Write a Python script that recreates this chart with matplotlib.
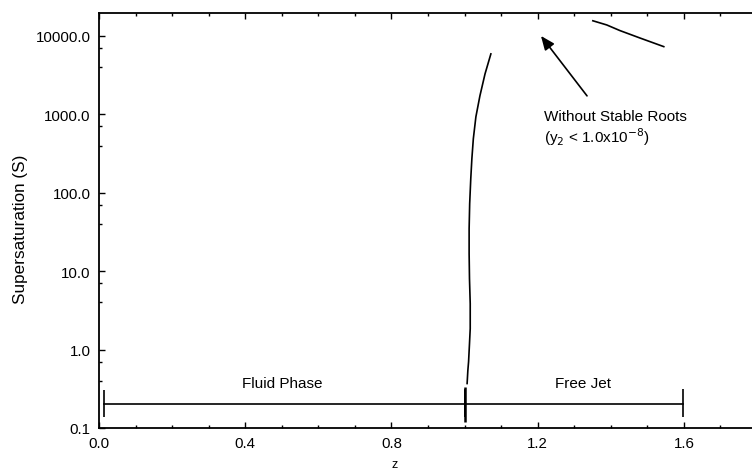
import matplotlib
matplotlib.use("Agg")
import matplotlib.pyplot as plt
from matplotlib.ticker import FixedLocator, FormatStrFormatter, MultipleLocator

plt.rcParams['font.family'] = ['Liberation Sans', 'DejaVu Sans']

# Curve below: supersaturation along z near the nozzle exit
z_curve1 = [1.007, 1.009, 1.011, 1.0135, 1.0155, 1.0155, 1.0135, 1.0125, 1.0125,
            1.014, 1.017, 1.020, 1.024, 1.031, 1.042, 1.056, 1.072]
s_curve1 = [0.369, 0.54, 0.70, 1.19, 1.85, 3.85, 8.0, 16.7, 34.8,
            72.4, 151, 271, 488, 929, 1720, 3280, 5900]

# Curve at upper right (free jet, high S)
z_curve2 = [1.351, 1.389, 1.425, 1.480, 1.545]
s_curve2 = [15600, 13800, 11700, 9400, 7300]

# Region bars
fluid_range = [0.014, 1.0]
jet_range = [1.0, 1.597]
bar_level = 0.2

x_ticks = [0.0, 0.4, 0.8, 1.2, 1.6]
y_ticks = [0.1, 1.0, 10.0, 100.0, 1000.0, 10000.0]

fig = plt.figure(figsize=(7.52, 4.77), dpi=100)
ax = fig.add_axes([99/752, 48/477, (757-99)/752, (463-48)/477])

ax.plot(z_curve1, s_curve1, color='black', lw=1.2)
ax.plot(z_curve2, s_curve2, color='black', lw=1.2)

# bars with end caps
def span(x0, x1, y, cap_lo, cap_hi):
    ax.plot([x0, x1], [y, y], color='black', lw=1.2)
    ax.vlines([x0, x1], cap_lo, cap_hi, color='black', lw=1.2)

span(fluid_range[0], fluid_range[1], bar_level, 0.138, 0.305)
span(jet_range[0], jet_range[1], bar_level * 1.015, 0.14, 0.31)
ax.vlines([1.0], 0.12, 0.33, color='black', lw=1.8)

ax.text(0.50, 0.37, 'Fluid Phase', ha='center', va='center', fontsize=11)
ax.text(1.324, 0.38, 'Free Jet', ha='center', va='center', fontsize=11)

ax.annotate('', xy=(1.209, 10000), xytext=(1.335, 1720),
            arrowprops=dict(arrowstyle='-|>,head_length=0.6,head_width=0.25',
                            color='black', lw=1.2,
                            mutation_scale=14, shrinkA=0, shrinkB=0))
ax.text(1.217, 950, 'Without Stable Roots', ha='left', va='center', fontsize=11)
ax.text(1.217, 520, r'(y$_2$ < 1.0x10$^{-8}$)', ha='left', va='center', fontsize=11)

ax.set_yscale('log')
ax.set_xlim(0, 1.8)
ax.set_ylim(0.1, 19600)

ax.xaxis.set_major_locator(FixedLocator(x_ticks))
ax.xaxis.set_minor_locator(MultipleLocator(0.1))
ax.xaxis.set_major_formatter(FormatStrFormatter('%.1f'))
ax.yaxis.set_major_locator(FixedLocator(y_ticks))
minor_y = [m * d for d in [0.1, 1, 10, 100, 1000] for m in (4, 7)]
ax.yaxis.set_minor_locator(FixedLocator(minor_y))
ax.yaxis.set_major_formatter(FormatStrFormatter('%.1f'))
ax.yaxis.set_minor_formatter(plt.NullFormatter())

ax.tick_params(axis='both', which='both', direction='in', labelsize=10.8, width=1.0)
ax.tick_params(axis='x', which='both', top=True, bottom=True)
ax.tick_params(which='major', length=4, pad=6)
ax.tick_params(which='minor', length=2.5)
ax.spines['right'].set_visible(False)
for s in ['left', 'bottom', 'top']:
    ax.spines[s].set_linewidth(1.3)

ax.set_ylabel('Supersaturation (S)', fontsize=12.3)
ax.yaxis.label.set_va('center')
ax.yaxis.label.set_ha('center')
ax.yaxis.set_label_coords((21-99)/658, (429-229)/415)
ax.set_xlabel('z', fontsize=9)
ax.xaxis.label.set_va('center')
ax.xaxis.set_label_coords((395-99)/658, (429-465)/415)

fig.savefig('out.png', dpi=100)
